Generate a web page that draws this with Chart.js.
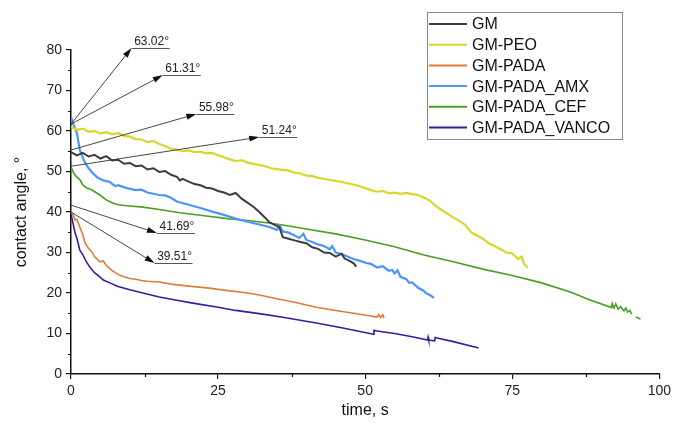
<!DOCTYPE html>
<html>
<head>
<meta charset="utf-8">
<script src="https://cdn.jsdelivr.net/npm/chart.js@4.4.1/dist/chart.umd.min.js"></script>
<style>
  html, body { margin: 0; padding: 0; background: #fff; }
  #wrap { width: 675px; height: 425px; }
</style>
</head>
<body>
<div id="wrap"><canvas id="chart" width="675" height="425"></canvas></div>
<script>
const LABELS = ['GM', 'GM-PEO', 'GM-PADA', 'GM-PADA_AMX', 'GM-PADA_CEF', 'GM-PADA_VANCO'];
const COLORS = ['#3d3d3d', '#d8d828', '#e07b39', '#4d94fb', '#4b9e20', '#3b1a9e'];

const gmT = [0, 1, 2, 3, 4, 5, 6, 7, 8, 9, 10, 11, 12, 13, 14, 15, 16, 17, 18, 18.5, 19, 20, 21, 22, 23, 24, 25, 26, 27, 28, 29, 30, 31, 32, 33, 33.7, 34.5, 35.4, 36, 37, 38, 39, 40, 41, 42, 43, 44, 45, 46, 46.5, 47, 48, 48.5];
const gmV = [54.8, 54.0, 54.6, 53.7, 54.1, 53.2, 53.8, 52.7, 52.9, 51.9, 52.1, 51.3, 51.5, 50.5, 50.8, 49.9, 50.1, 49.2, 48.7, 47.8, 48.2, 47.5, 46.9, 46.6, 46.0, 45.8, 45.2, 44.8, 44.2, 44.7, 43.3, 42.3, 41.3, 40.0, 38.6, 37.5, 36.9, 36.3, 33.8, 33.4, 33.0, 32.6, 32.3, 31.3, 30.9, 30.0, 29.9, 29.0, 29.7, 28.5, 28.2, 27.4, 26.5];

const peoT = [0, 1, 2, 3, 4, 5, 6, 7, 8, 9, 10, 11, 12, 13, 14, 15, 16, 17, 18, 19, 20, 21, 22, 23, 24, 25, 26, 27, 28, 29, 30, 31, 32, 33, 34, 35, 36, 37, 38, 39, 40, 41, 42, 43, 44, 45, 46, 47, 48, 49, 50, 51, 52, 53, 54, 55, 56, 57, 58, 59, 60, 61, 62, 63, 64, 65, 66, 67, 68, 69, 70, 71, 72, 73, 74, 75, 76, 76.6, 77, 77.6];
const peoV = [61.0, 60.3, 60.6, 59.8, 60.0, 59.4, 59.7, 59.2, 59.5, 58.8, 58.6, 58.0, 57.9, 57.3, 57.5, 56.8, 56.3, 55.6, 55.4, 55.0, 55.2, 54.8, 54.9, 54.5, 54.6, 54.0, 53.5, 53.0, 52.6, 52.8, 52.2, 51.9, 51.6, 51.3, 50.8, 50.6, 50.4, 50.2, 49.7, 49.5, 49.0, 48.9, 48.4, 48.2, 47.9, 47.7, 47.4, 47.1, 46.8, 46.4, 45.9, 45.4, 45.0, 45.2, 44.6, 44.8, 44.5, 44.7, 44.4, 44.2, 43.6, 42.8, 41.5, 40.5, 39.6, 38.6, 37.8, 36.8, 35.0, 34.2, 33.4, 32.3, 31.6, 30.8, 30.0, 29.8, 28.4, 29.0, 27.2, 26.2];

const padaT = [0, 0.3, 0.7, 1, 1.5, 2, 2.4, 3, 3.5, 4, 4.9, 5.5, 6, 7, 8, 9, 10, 11, 12, 13, 15, 17, 20, 23.5, 26, 30, 32, 35, 38, 41.7, 45, 48, 51, 52, 52.3, 52.6, 53, 53.2];
const padaV = [40.0, 39.5, 38.0, 38.2, 36.3, 34.5, 32.3, 31.0, 30.2, 29.0, 27.7, 27.9, 26.8, 25.5, 24.6, 24.0, 23.6, 23.4, 23.1, 22.9, 22.7, 22.2, 21.7, 21.2, 20.7, 20.0, 19.5, 18.6, 17.7, 16.5, 15.7, 15.0, 14.3, 14.0, 14.7, 13.9, 14.6, 13.8];

const amxT = [0, 0.3, 0.6, 1, 1.5, 2, 2.4, 3, 3.7, 4.5, 5.5, 6.6, 7.5, 8, 9.5, 11, 12, 13, 15, 16, 17, 18, 20, 22, 24, 26, 28, 30, 32, 33.7, 35, 35.5, 36, 37, 38, 38.8, 39.5, 40, 41, 42, 43, 44, 44.4, 45, 46, 47, 48, 49, 50.2, 51, 52, 53, 54, 54.6, 55, 55.5, 56, 57, 57.5, 58, 59, 60, 60.3, 61, 61.7];
const amxV = [63.5, 62.0, 61.0, 59.5, 55.3, 53.5, 52.1, 50.8, 49.6, 48.5, 47.8, 47.4, 46.4, 46.6, 45.9, 45.4, 45.5, 44.8, 44.2, 44.1, 43.5, 42.6, 41.8, 41.0, 40.1, 39.3, 38.4, 37.6, 36.9, 36.3, 35.6, 36.6, 35.2, 34.9, 34.2, 33.6, 34.6, 33.1, 32.6, 32.0, 31.6, 30.8, 31.6, 30.0, 29.6, 29.0, 28.4, 28.0, 27.4, 27.2, 26.3, 26.6, 25.5, 25.7, 24.8, 25.6, 24.0, 23.4, 22.5, 22.6, 21.3, 20.5, 20.0, 19.5, 18.8];

const cefT = [0, 0.5, 1, 1.5, 2, 2.7, 3.5, 4.9, 6, 7.1, 8, 10, 12.2, 15, 18.5, 23, 27, 30, 33.7, 36, 40, 45, 50, 55, 60, 65, 70, 75, 80, 85, 88, 91.9, 92, 92.3, 92.6, 93, 93.4, 94, 94.3, 94.6, 95, 95.3, 95.6, 96, 96.8];
const cefV = [51.1, 49.5, 48.6, 48.0, 46.7, 45.9, 45.5, 44.2, 43.0, 42.2, 41.8, 41.5, 41.2, 40.6, 39.8, 39.0, 38.3, 37.9, 37.3, 36.8, 35.8, 34.6, 33.1, 31.4, 29.4, 27.7, 25.9, 24.3, 22.5, 20.2, 18.4, 16.4, 17.4, 16.3, 17.3, 16.0, 16.6, 15.6, 16.3, 15.3, 15.7, 14.8, null, 14.1, 13.6];

const vancoT = [0, 0.3, 0.7, 1, 1.5, 2, 2.5, 3.2, 4, 4.9, 5.5, 6.6, 8, 10, 12.2, 15, 18, 20.7, 25, 28, 32, 36, 41.7, 46, 51.4, 51.5, 52, 55, 58, 60.6, 60.7, 60.8, 61.8, 61.9, 62.2, 65, 69.3];
const vancoV = [39.5, 37.5, 34.8, 33.5, 30.6, 29.5, 28.0, 26.4, 25.0, 24.0, 23.2, 22.5, 21.6, 20.8, 20.0, 19.0, 18.2, 17.5, 16.5, 15.7, 14.9, 14.0, 12.6, 11.4, 9.8, 10.8, 10.6, 10.0, 9.2, 8.4, 9.1, 8.4, 8.2, 9.0, 8.9, 8.0, 6.4];

const SERIES_T = [gmT, peoT, padaT, amxT, cefT, vancoT];
const SERIES_V = [gmV, peoV, padaV, amxV, cefV, vancoV];
const WIDTHS = [2, 2.2, 1.6, 2.2, 1.6, 1.6];

// callouts: label, start angle at t=0, arrow tip (time, angle)
const calloutText = ['63.02°', '61.31°', '55.98°', '51.24°', '41.69°', '39.51°'];
const calloutStart = [61.7, 61.7, 55.3, 51.3, 41.7, 40.0];
const calloutTipT = [10.3, 15.6, 21.3, 32.0, 14.6, 14.2];
const calloutTipV = [80.5, 73.8, 64.2, 58.5, 34.8, 27.4];

const FONT = 'Liberation Sans, Arial, sans-serif';

const extras = {
  id: 'extras',
  afterDraw(chart) {
    const ctx = chart.ctx;
    const xs = chart.scales.x, ys = chart.scales.y;
    const area = chart.chartArea;
    ctx.save();

    // minor ticks
    ctx.strokeStyle = '#111';
    ctx.lineWidth = 1.2;
    ctx.beginPath();
    for (let v = 5; v < 80; v += 10) {
      const py = Math.round(ys.getPixelForValue(v)) + 0.5;
      ctx.moveTo(area.left - 3, py); ctx.lineTo(area.left, py);
    }
    for (let t = 12.5; t < 100; t += 25) {
      const px = Math.round(xs.getPixelForValue(t)) + 0.5;
      ctx.moveTo(px, area.bottom); ctx.lineTo(px, area.bottom + 3);
    }
    ctx.stroke();

    // callout arrows
    ctx.font = '12px ' + FONT;
    ctx.textAlign = 'center';
    ctx.textBaseline = 'alphabetic';
    calloutText.forEach((txt, i) => {
      const sx = xs.getPixelForValue(0), sy = ys.getPixelForValue(calloutStart[i]);
      const tx = xs.getPixelForValue(calloutTipT[i]), ty = ys.getPixelForValue(calloutTipV[i]);
      const a = Math.atan2(ty - sy, tx - sx);
      ctx.strokeStyle = '#333';
      ctx.lineWidth = 0.9;
      ctx.beginPath();
      ctx.moveTo(sx, sy);
      ctx.lineTo(tx - 8 * Math.cos(a), ty - 8 * Math.sin(a));
      ctx.stroke();
      ctx.fillStyle = '#111';
      ctx.beginPath();
      ctx.moveTo(tx, ty);
      ctx.lineTo(tx - 10 * Math.cos(a) + 3 * Math.sin(a), ty - 10 * Math.sin(a) - 3 * Math.cos(a));
      ctx.lineTo(tx - 10 * Math.cos(a) - 3 * Math.sin(a), ty - 10 * Math.sin(a) + 3 * Math.cos(a));
      ctx.closePath();
      ctx.fill();
      ctx.strokeStyle = '#555';
      ctx.lineWidth = 1;
      ctx.beginPath();
      ctx.moveTo(tx, Math.round(ty) + 0.5);
      ctx.lineTo(tx + 38, Math.round(ty) + 0.5);
      ctx.stroke();
      ctx.fillStyle = '#222';
      ctx.fillText(txt, tx + 20, ty - 3);
    });

    // legend box
    const lx = 427, ly = 12, lw = 195, lh = 127;
    ctx.fillStyle = '#fff';
    ctx.fillRect(lx, ly, lw, lh);
    ctx.strokeStyle = '#888';
    ctx.lineWidth = 1;
    ctx.strokeRect(lx + 0.5, ly + 0.5, lw, lh);
    ctx.font = '16px ' + FONT;
    ctx.textAlign = 'left';
    ctx.textBaseline = 'middle';
    chart.data.datasets.forEach((ds, i) => {
      const cy = ly + 12 + i * 20.7;
      ctx.strokeStyle = ds.borderColor;
      ctx.lineWidth = 2;
      ctx.beginPath();
      ctx.moveTo(lx + 2, cy); ctx.lineTo(lx + 40, cy);
      ctx.stroke();
      ctx.fillStyle = '#111';
      ctx.fillText(ds.label, lx + 45, cy + 1);
    });
    ctx.restore();
  }
};

function datasetsFor() {
  return LABELS.map((name, i) => ({
    label: name,
    data: SERIES_T[i].map((t, k) => ({ x: t, y: SERIES_V[i][k] })),
    borderColor: COLORS[i],
    backgroundColor: COLORS[i],
    borderWidth: WIDTHS[i],
    pointRadius: 0,
    tension: 0,
    spanGaps: false,
    fill: false,
  }));
}

new Chart(document.getElementById('chart'), {
  type: 'line',
  data: { datasets: datasetsFor() },
  options: {
    responsive: false,
    animation: false,
    devicePixelRatio: 1,
    layout: { padding: { top: 50, right: 14, left: 0, bottom: 0 } },
    plugins: { legend: { display: false }, tooltip: { enabled: false } },
    scales: {
      x: {
        type: 'linear', min: 0, max: 100,
        ticks: { stepSize: 25, color: '#222', padding: 4, font: { family: FONT, size: 14 } },
        grid: { drawOnChartArea: false, drawTicks: true, tickLength: 5, color: '#111', lineWidth: 1.2 },
        border: { color: '#111', width: 1.5 },
        title: { display: true, text: 'time, s', color: '#111', font: { family: FONT, size: 16 }, padding: { top: 0, bottom: 5 } },
        afterFit: s => { s.height = 51; },
      },
      y: {
        type: 'linear', min: 0, max: 80,
        ticks: { stepSize: 10, color: '#222', padding: 4, font: { family: FONT, size: 14 } },
        grid: { drawOnChartArea: false, drawTicks: true, tickLength: 5, color: '#111', lineWidth: 1.2 },
        border: { color: '#111', width: 1.5 },
        title: { display: true, text: 'contact angle, °', color: '#111', font: { family: FONT, size: 16 }, padding: { top: 12, bottom: 0 } },
        afterFit: s => { s.width = 71; },
      },
    },
  },
  plugins: [extras],
});
</script>
</body>
</html>
